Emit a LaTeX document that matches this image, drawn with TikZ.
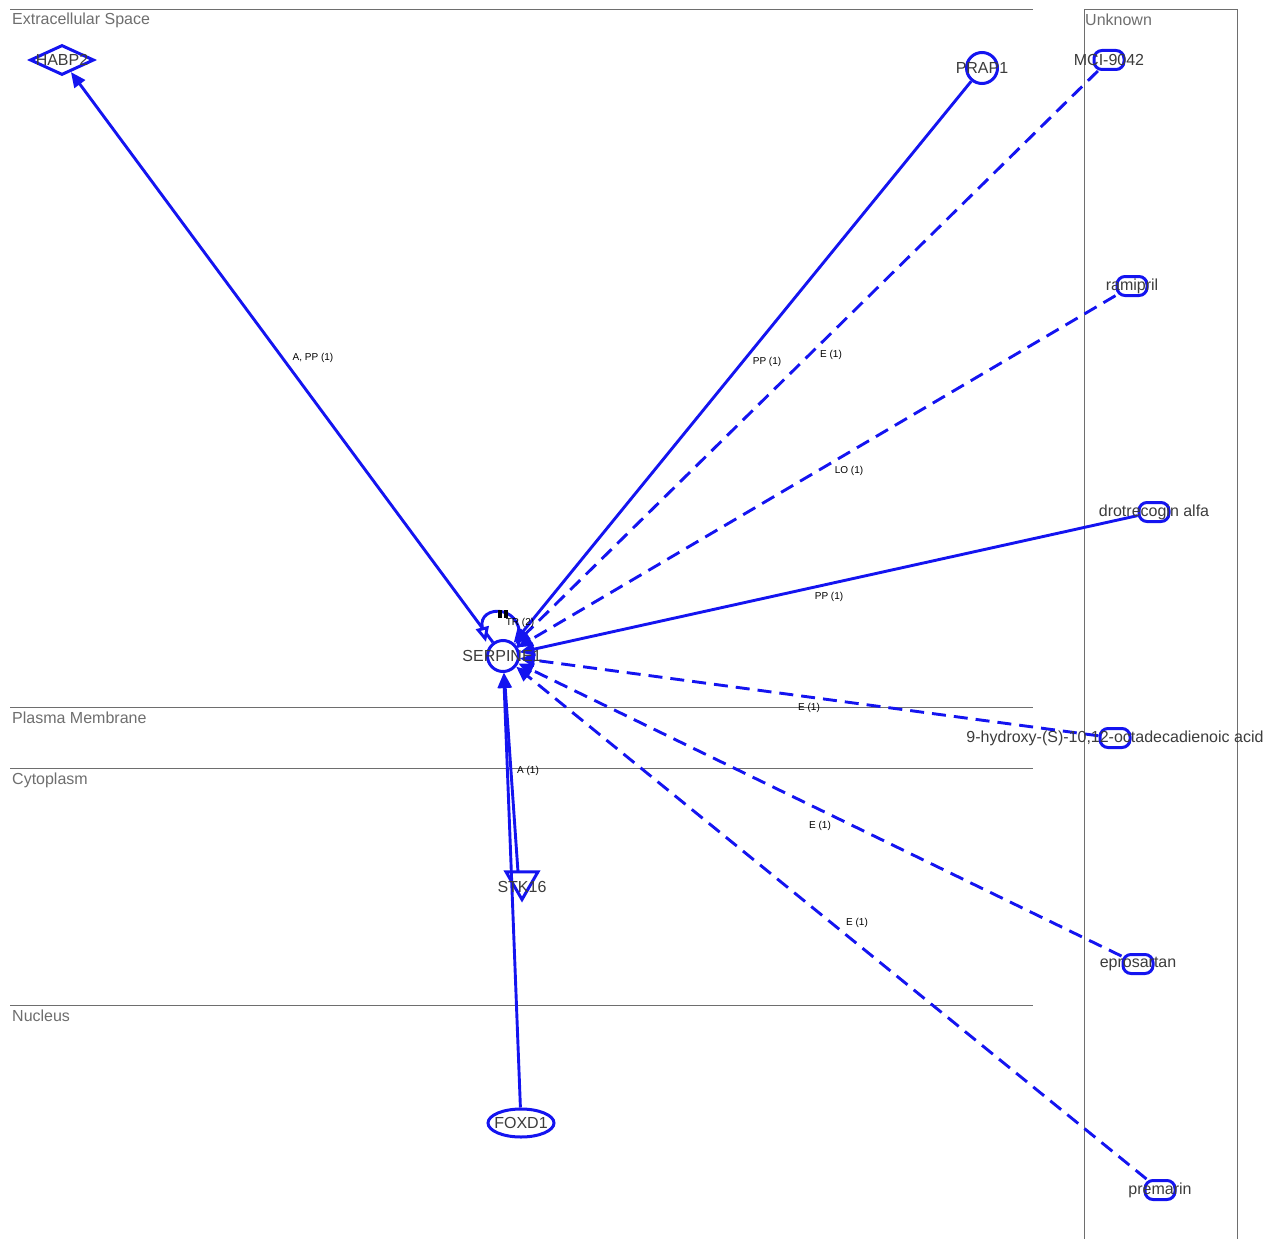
\documentclass[tikz,border=0pt]{standalone}
\usepackage{fontspec}
\setmainfont{Liberation Sans}
\usetikzlibrary{shapes.geometric,arrows.meta}
\definecolor{netblue}{RGB}{20,20,240}
\definecolor{regiongray}{RGB}{110,110,110}
\definecolor{labelgray}{RGB}{60,60,60}
\tikzset{
  shapebase/.style={draw=netblue, line width=3pt, fill=white, inner sep=0pt},
  circ/.style={shapebase, circle, minimum size=31pt},
  chem/.style={shapebase, rectangle, rounded corners=8pt, minimum width=30pt, minimum height=19pt},
  nlbl/.style={text=labelgray, font=\fontsize{16}{16}\selectfont, inner sep=0pt},
  rlbl/.style={text=regiongray, font=\fontsize{16}{16}\selectfont, anchor=west, inner sep=0pt},
  elbl/.style={text=black, font=\fontsize{10}{10}\selectfont, inner sep=0pt},
  edge/.style={draw=netblue, line width=2.9pt, -{Triangle[length=15pt,width=13pt]}},
  dedge/.style={edge, dash pattern=on 14pt off 8pt},
  region/.style={draw=regiongray, line width=0.9pt},
}
\begin{document}
\begin{tikzpicture}[x=1pt,y=-1pt]
\useasboundingbox (0,0) rectangle (1283,1239);
% regions
\draw[region] (10,9) -- (1033,9);
\draw[region] (10,707) -- (1033,707);
\draw[region] (10,768) -- (1033,768);
\draw[region] (10,1005) -- (1033,1005);
\draw[region] (1084,1239) -- (1084,9) -- (1237,9) -- (1237,1239);
\node[rlbl] (rExt) at (12,20) {Extracellular Space};
\node[rlbl] (rPM) at (12,718) {Plasma Membrane};
\node[rlbl] (rCyt) at (12,780) {Cytoplasm};
\node[rlbl] (rNuc) at (12,1016) {Nucleus};
\node[rlbl] (rUnk) at (1085,20) {Unknown};

% nodes
\node[shapebase, diamond, minimum width=64pt, minimum height=30pt] (habp2) at (62,60) {};
\node[circ] (serp) at (503,656) {};
\node[circ] (prap1) at (982,68) {};
\node[chem] (mci) at (1109,60) {};
\node[chem] (rami) at (1132,286) {};
\node[chem] (drot) at (1154,512) {};
\node[chem] (hode) at (1115,738) {};
\node[chem] (epro) at (1138,964) {};
\node[chem] (prem) at (1160,1190) {};
\node[shapebase, regular polygon, regular polygon sides=3, shape border rotate=180, minimum size=37pt] (stk16) at (522,881) {};
\node[shapebase, ellipse, minimum width=66pt, minimum height=28pt] (foxd1) at (521,1123) {};
\coordinate (stktop) at (518,872);

% edges
\draw[edge] (serp) -- (habp2);
\draw[edge] (prap1) -- (serp);
\draw[dedge] (mci) -- (serp);
\draw[dedge] (rami) -- (serp);
\draw[edge] (drot) -- (serp);
\draw[dedge] (hode) -- (serp);
\draw[dedge] (epro) -- (serp);
\draw[dedge] (prem) -- (serp);
\draw[edge] (foxd1) -- (serp);
\draw[edge] (stktop) -- (serp);
% self loop
\draw[draw=netblue, line width=2.9pt, -{Triangle[open, fill=white, length=15pt, width=13pt]}]
  (serp.30) .. controls (530,603) and (476,603) .. (486,642);
\fill[black] (497.5,610) rectangle (501.5,618);
\fill[black] (503.5,610) rectangle (507.5,618);

% node labels
\node[nlbl] (lhabp2) at (62,60) {HABP2};
\node[nlbl] (lserp) at (502,656) {SERPINE1};
\node[nlbl] (lprap1) at (982,68) {PRAP1};
\node[nlbl] (lmci) at (1109,60) {MCI-9042};
\node[nlbl] (lrami) at (1132,286) {ramipril};
\node[nlbl] (ldrot) at (1154,512) {drotrecogin alfa};
\node[nlbl] (lhode) at (1115,738) {9-hydroxy-(S)-10,12-octadecadienoic acid};
\node[nlbl] (lepro) at (1138,964) {eprosartan};
\node[nlbl] (lprem) at (1160,1190) {premarin};
\node[nlbl] (lstk) at (522,887) {STK16};
\node[nlbl] (lfox) at (521,1123) {FOXD1};

% edge labels
\node[elbl] (e1) at (313,358) {A, PP (1)};
\node[elbl] (e2) at (767,362) {PP (1)};
\node[elbl] (e3) at (831,355) {E (1)};
\node[elbl] (e4) at (849,471) {LO (1)};
\node[elbl] (e5) at (829,597) {PP (1)};
\node[elbl] (e6) at (809,708) {E (1)};
\node[elbl] (e7) at (820,826) {E (1)};
\node[elbl] (e8) at (857,923) {E (1)};
\node[elbl] (e9) at (528,771) {A (1)};
\node[elbl] (e10) at (520,623) {TR (2)};
\end{tikzpicture}
\end{document}
